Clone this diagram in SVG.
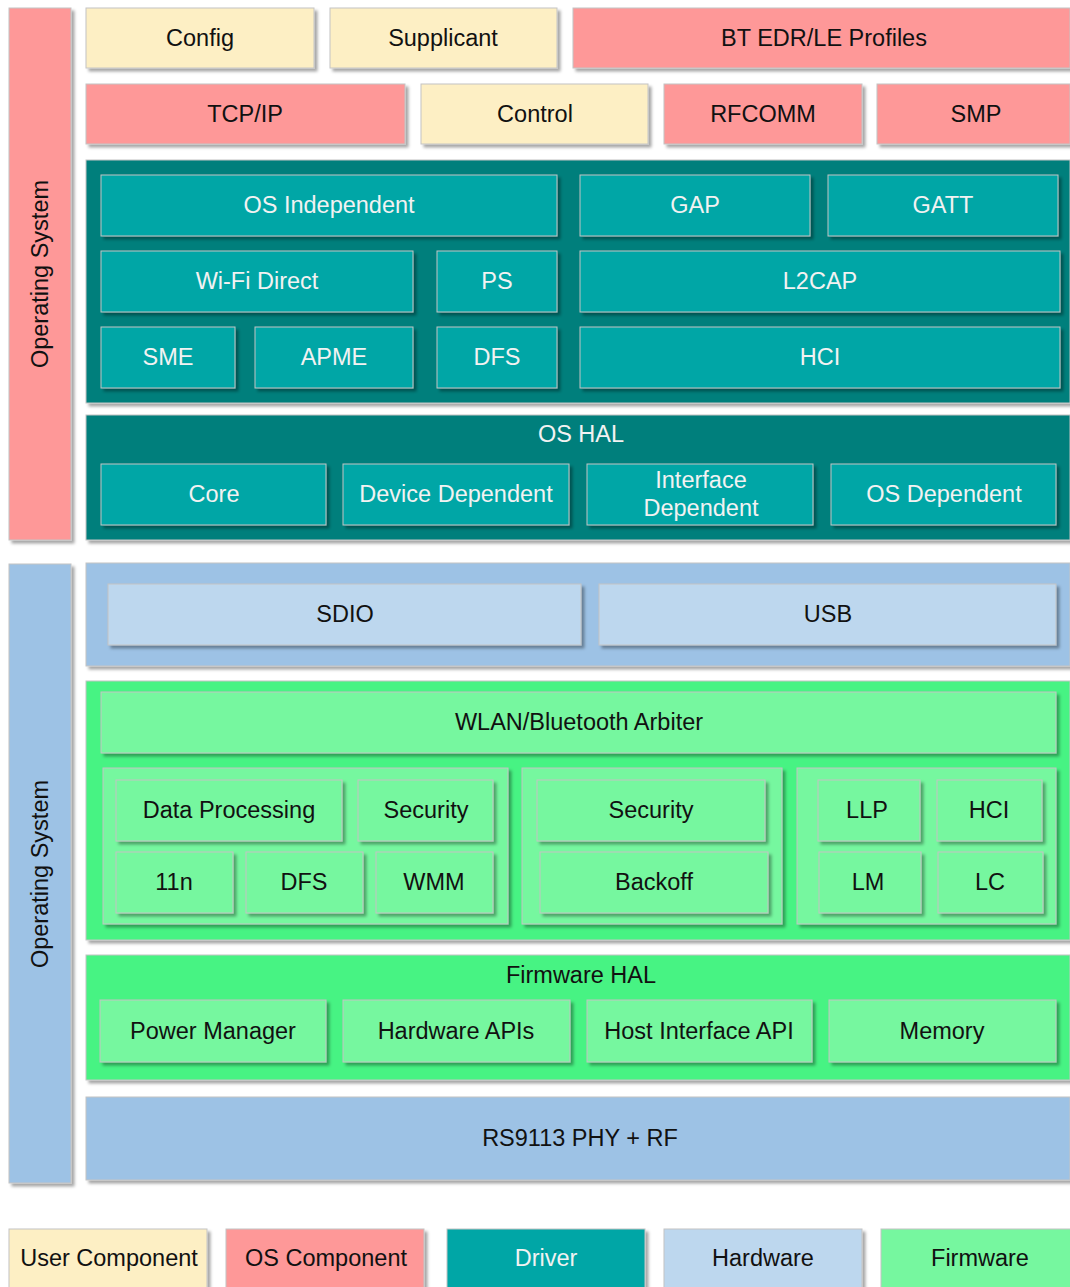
<svg xmlns="http://www.w3.org/2000/svg" width="1070" height="1287" viewBox="0 0 1070 1287">
<defs>
<filter id="sh" x="-5%" y="-10%" width="115%" height="130%">
<feDropShadow dx="3" dy="3" stdDeviation="1.6" flood-color="#000" flood-opacity="0.35"/>
</filter>
<style>
rect{stroke:#c4c4c4;stroke-width:1;filter:url(#sh)}
.u{fill:#fdefc4}
.o{fill:#fe9898}
.d{fill:#027f7c}
.di{fill:#00a6a6}
.h{fill:#9dc2e5}
.hi{fill:#bdd7ee}
.f{fill:#47f383}
.fi{fill:#76f79f}
text{font-family:"Liberation Sans",Arial,sans-serif;font-size:23.5px;text-anchor:middle;dominant-baseline:central;fill:#111}
.w{fill:#f2f2f2}
</style>
</defs>
<rect width="1070" height="1287" fill="#fff" style="stroke:none;filter:none"/>

<g id="os-bar-top"><rect class="o" x="9" y="8" width="62" height="532"/><text transform="translate(40,274) rotate(-90)">Operating System</text></g>
<g id="os-bar-bottom"><rect class="h" x="9" y="564" width="62" height="619"/><text transform="translate(40,874) rotate(-90)">Operating System</text></g>

<g id="config"><rect class="u" x="86" y="8" width="228" height="60"/><text x="200" y="38">Config</text></g>
<g id="supplicant"><rect class="u" x="330" y="8" width="227" height="60"/><text x="443" y="38">Supplicant</text></g>
<g id="bt-profiles"><rect class="o" x="573" y="8" width="497" height="60"/><text x="824" y="38">BT EDR/LE Profiles</text></g>

<g id="tcpip"><rect class="o" x="86" y="84" width="319" height="60"/><text x="245" y="114">TCP/IP</text></g>
<g id="control"><rect class="u" x="421" y="84" width="227" height="60"/><text x="535" y="114">Control</text></g>
<g id="rfcomm"><rect class="o" x="664" y="84" width="198" height="60"/><text x="763" y="114">RFCOMM</text></g>
<g id="smp"><rect class="o" x="877" y="84" width="193" height="60"/><text x="976" y="114">SMP</text></g>

<g id="driver">
<rect class="d" x="86" y="160" width="984" height="243"/>
<g id="os-independent"><rect class="di" x="101" y="175" width="456" height="61"/><text class="w" x="329" y="205">OS Independent</text></g>
<g id="gap"><rect class="di" x="580" y="175" width="230" height="61"/><text class="w" x="695" y="205">GAP</text></g>
<g id="gatt"><rect class="di" x="828" y="175" width="230" height="61"/><text class="w" x="943" y="205">GATT</text></g>
<g id="wifi-direct"><rect class="di" x="101" y="251" width="312" height="61"/><text class="w" x="257" y="281">Wi-Fi Direct</text></g>
<g id="ps"><rect class="di" x="437" y="251" width="120" height="61"/><text class="w" x="497" y="281">PS</text></g>
<g id="l2cap"><rect class="di" x="580" y="251" width="480" height="61"/><text class="w" x="820" y="281">L2CAP</text></g>
<g id="sme"><rect class="di" x="101" y="327" width="134" height="61"/><text class="w" x="168" y="357">SME</text></g>
<g id="apme"><rect class="di" x="255" y="327" width="158" height="61"/><text class="w" x="334" y="357">APME</text></g>
<g id="dfs-drv"><rect class="di" x="437" y="327" width="120" height="61"/><text class="w" x="497" y="357">DFS</text></g>
<g id="hci-drv"><rect class="di" x="580" y="327" width="480" height="61"/><text class="w" x="820" y="357">HCI</text></g>
</g>

<g id="os-hal">
<rect class="d" x="86" y="415" width="984" height="125"/>
<text class="w" x="581" y="434">OS HAL</text>
<g id="core"><rect class="di" x="101" y="464" width="225" height="61"/><text class="w" x="214" y="494">Core</text></g>
<g id="device-dependent"><rect class="di" x="343" y="464" width="226" height="61"/><text class="w" x="456" y="494">Device Dependent</text></g>
<g id="interface-dependent"><rect class="di" x="587" y="464" width="226" height="61"/><text class="w" x="701" y="480">Interface</text><text class="w" x="701" y="508">Dependent</text></g>
<g id="os-dependent"><rect class="di" x="831" y="464" width="225" height="61"/><text class="w" x="944" y="494">OS Dependent</text></g>
</g>

<g id="host-interface">
<rect class="h" x="86" y="563" width="984" height="103"/>
<g id="sdio"><rect class="hi" x="108" y="584" width="473" height="61"/><text x="345" y="614">SDIO</text></g>
<g id="usb"><rect class="hi" x="599" y="584" width="457" height="61"/><text x="828" y="614">USB</text></g>
</g>

<g id="firmware">
<rect class="f" x="86" y="681" width="984" height="259"/>
<g id="arbiter"><rect class="fi" x="101" y="692" width="955" height="61"/><text x="579" y="722">WLAN/Bluetooth Arbiter</text></g>
<g id="wlan-group">
<rect class="fi" x="103" y="768" width="405" height="156"/>
<g id="data-processing"><rect class="fi" x="116" y="780" width="226" height="61"/><text x="229" y="810">Data Processing</text></g>
<g id="security-wlan"><rect class="fi" x="358" y="780" width="135" height="61"/><text x="426" y="810">Security</text></g>
<g id="n11"><rect class="fi" x="116" y="852" width="117" height="61"/><text x="174" y="882">11n</text></g>
<g id="dfs-fw"><rect class="fi" x="246" y="852" width="117" height="61"/><text x="304" y="882">DFS</text></g>
<g id="wmm"><rect class="fi" x="376" y="852" width="117" height="61"/><text x="434" y="882">WMM</text></g>
</g>
<g id="mid-group">
<rect class="fi" x="522" y="768" width="260" height="156"/>
<g id="security-mid"><rect class="fi" x="537" y="780" width="228" height="61"/><text x="651" y="810">Security</text></g>
<g id="backoff"><rect class="fi" x="540" y="852" width="228" height="61"/><text x="654" y="882">Backoff</text></g>
</g>
<g id="bt-group">
<rect class="fi" x="797" y="768" width="259" height="156"/>
<g id="llp"><rect class="fi" x="818" y="780" width="102" height="61"/><text x="867" y="810">LLP</text></g>
<g id="hci-fw"><rect class="fi" x="937" y="780" width="105" height="61"/><text x="989" y="810">HCI</text></g>
<g id="lm"><rect class="fi" x="819" y="852" width="102" height="61"/><text x="868" y="882">LM</text></g>
<g id="lc"><rect class="fi" x="938" y="852" width="105" height="61"/><text x="990" y="882">LC</text></g>
</g>
</g>

<g id="firmware-hal">
<rect class="f" x="86" y="955" width="984" height="125"/>
<text x="581" y="975">Firmware HAL</text>
<g id="power-manager"><rect class="fi" x="100" y="1000" width="226" height="62"/><text x="213" y="1031">Power Manager</text></g>
<g id="hardware-apis"><rect class="fi" x="343" y="1000" width="227" height="62"/><text x="456" y="1031">Hardware APIs</text></g>
<g id="host-interface-api"><rect class="fi" x="587" y="1000" width="225" height="62"/><text x="699" y="1031">Host Interface API</text></g>
<g id="memory"><rect class="fi" x="829" y="1000" width="227" height="62"/><text x="942" y="1031">Memory</text></g>
</g>

<g id="phy-rf"><rect class="h" x="86" y="1097" width="984" height="83"/><text x="580" y="1138">RS9113 PHY + RF</text></g>

<g id="legend">
<g id="lg-user"><rect class="u" x="9" y="1229" width="198" height="62"/><text x="109" y="1258">User Component</text></g>
<g id="lg-os"><rect class="o" x="226" y="1229" width="198" height="62"/><text x="326" y="1258">OS Component</text></g>
<g id="lg-driver"><rect class="di" x="447" y="1229" width="198" height="62"/><text class="w" x="546" y="1258">Driver</text></g>
<g id="lg-hw"><rect class="hi" x="664" y="1229" width="198" height="62"/><text x="763" y="1258">Hardware</text></g>
<g id="lg-fw"><rect class="fi" x="881" y="1229" width="195" height="62"/><text x="980" y="1258">Firmware</text></g>
</g>

<g id="connectors"/>
</svg>
